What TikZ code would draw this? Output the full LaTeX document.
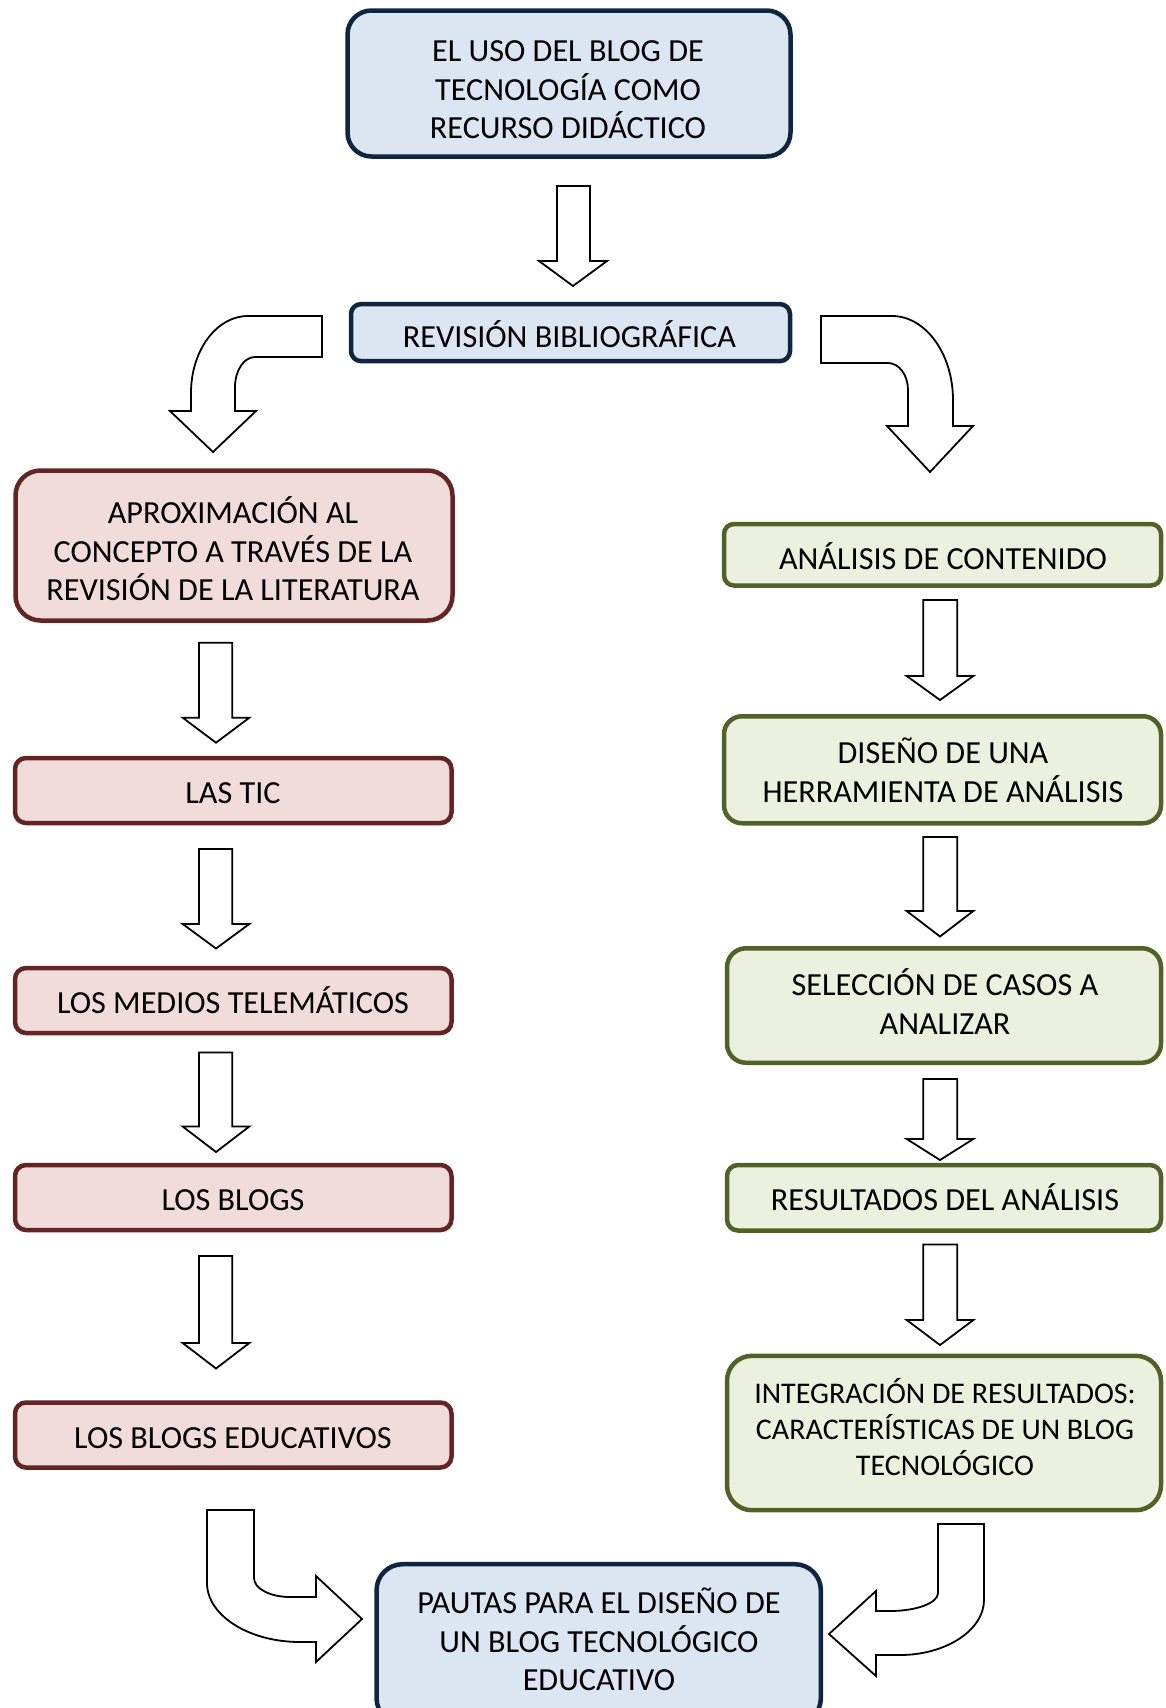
\documentclass[tikz,border=0pt]{standalone}
\usepackage{fontspec}
\setmainfont{Carlito}
\definecolor{bfill}{HTML}{DCE6F2}
\definecolor{bdraw}{HTML}{10253F}
\definecolor{rfill}{HTML}{F2DCDB}
\definecolor{rdraw}{HTML}{632523}
\definecolor{gfill}{HTML}{EBF1DE}
\definecolor{gdraw}{HTML}{4F6228}
\tikzset{
  flowbox/.style={draw, line width=4.5pt, inner sep=0pt, outer sep=0pt},
  bluebox/.style={flowbox, fill=bfill, draw=bdraw},
  redbox/.style={flowbox, fill=rfill, draw=rdraw},
  greenbox/.style={flowbox, fill=gfill, draw=gdraw},
  txt/.style={inner sep=0pt, anchor=base, font=\fontsize{32.2}{38.3}\selectfont},
  smalltxt/.style={inner sep=0pt, anchor=base, font=\fontsize{30}{35}\selectfont},
  blockarrow/.style={draw=black, fill=white, line width=1.8pt, line join=miter},
}
\newcommand\bdarrow[7]{%
  \draw[blockarrow] (#1,#3) -- (#2,#3) -- (#2,#4) -- (#6,#4) -- ({(#5+#6)/2},#7) -- (#5,#4) -- (#1,#4) -- cycle;}
\begin{document}
\begin{tikzpicture}[x=1pt,y=-1pt]
\useasboundingbox (0,0) rectangle (1165,1708);
\clip (0,0) rectangle (1165,1708);

% ---------- boxes ----------
\node[bluebox, rounded corners=24pt, minimum width=443pt, minimum height=146pt] (top) at (569,83.5) {};
\node[bluebox, rounded corners=10pt, minimum width=439pt, minimum height=57pt] (rev) at (570.5,332.6) {};

\node[redbox, rounded corners=25pt, minimum width=437pt, minimum height=150pt] (aprox) at (234,545.5) {};
\node[redbox, rounded corners=11pt, minimum width=436.5pt, minimum height=65pt] (tic) at (233.25,790.5) {};
\node[redbox, rounded corners=11pt, minimum width=436.5pt, minimum height=65pt] (medios) at (233.25,1000.5) {};
\node[redbox, rounded corners=11pt, minimum width=436.5pt, minimum height=65pt] (blogs) at (233.25,1197.5) {};
\node[redbox, rounded corners=11pt, minimum width=436.5pt, minimum height=65pt] (educ) at (233.25,1435) {};

\node[greenbox, rounded corners=10pt, minimum width=437pt, minimum height=61.5pt] (analisis) at (942.5,554.75) {};
\node[greenbox, rounded corners=18pt, minimum width=437pt, minimum height=107pt] (diseno) at (942.5,769.75) {};
\node[greenbox, rounded corners=19pt, minimum width=434pt, minimum height=114.5pt] (seleccion) at (944,1005.5) {};
\node[greenbox, rounded corners=11pt, minimum width=434pt, minimum height=65.5pt] (resultados) at (944,1197.75) {};
\node[greenbox, rounded corners=25pt, minimum width=434pt, minimum height=154.4pt] (integracion) at (944,1433) {};

\node[bluebox, rounded corners=26pt, minimum width=444.3pt, minimum height=160pt] (pautas) at (598.7,1644.2) {};

% ---------- texts ----------
\node[txt] (top1) at (568,61.7) {EL USO DEL BLOG DE};
\node[txt] (top2) at (568,100) {TECNOLOGÍA COMO};
\node[txt] (top3) at (568,138.3) {RECURSO DIDÁCTICO};
\node[txt] (rev1) at (569.5,347.5) {REVISIÓN BIBLIOGRÁFICA};

\node[txt] (aprox1) at (233,523.3) {APROXIMACIÓN AL};
\node[txt] (aprox2) at (233,562.5) {CONCEPTO A TRAVÉS DE LA};
\node[txt] (aprox3) at (233,600.8) {REVISIÓN DE LA LITERATURA};
\node[txt] (tic1) at (233,803.3) {LAS TIC};
\node[txt] (medios1) at (233,1013.5) {LOS MEDIOS TELEMÁTICOS};
\node[txt] (blogs1) at (233,1210.5) {LOS BLOGS};
\node[txt] (educ1) at (233,1448) {LOS BLOGS EDUCATIVOS};

\node[txt] (analisis1) at (943,569) {ANÁLISIS DE CONTENIDO};
\node[txt] (diseno1) at (943,763.4) {DISEÑO DE UNA};
\node[txt] (diseno2) at (943,802.6) {HERRAMIENTA DE ANÁLISIS};
\node[txt] (sel1) at (945,995.4) {SELECCIÓN DE CASOS A};
\node[txt] (sel2) at (945,1034.6) {ANALIZAR};
\node[txt] (res1) at (945,1210.5) {RESULTADOS DEL ANÁLISIS};
\node[smalltxt] (int1) at (945,1403.4) {INTEGRACIÓN DE RESULTADOS:};
\node[smalltxt] (int2) at (945,1439.3) {CARACTERÍSTICAS DE UN BLOG};
\node[smalltxt] (int3) at (945,1475.2) {TECNOLÓGICO};

\node[txt] (pautas1) at (599,1613.5) {PAUTAS PARA EL DISEÑO DE};
\node[txt] (pautas2) at (599,1652) {UN BLOG TECNOLÓGICO};
\node[txt] (pautas3) at (599,1690.5) {EDUCATIVO};

% ---------- straight block arrows ----------
\bdarrow{557}{590}{186}{261}{539}{607}{286}
\bdarrow{199}{232.3}{642.7}{717.7}{182.7}{249.3}{742.7}
\bdarrow{199}{232.3}{849}{924}{182.7}{249.3}{948.5}
\bdarrow{199}{232.3}{1052.5}{1126.5}{182.7}{249.3}{1152}
\bdarrow{199}{232.3}{1256}{1343}{182.7}{249.3}{1368.5}
\bdarrow{923.3}{957.3}{600}{676}{906.7}{973.3}{700}
\bdarrow{923.3}{957.3}{837}{911}{906.7}{973.3}{936.5}
\bdarrow{923.3}{957.3}{1079}{1139}{906.7}{973.3}{1160}
\bdarrow{923.3}{957.3}{1244.5}{1320}{906.7}{973.3}{1345}

% ---------- curved block arrows ----------
\draw[blockarrow] (322,316) -- (248,316) .. controls (216.5,316) and (191,350.5) .. (191,393) -- (191,411) -- (170,411) -- (213,452) -- (256,411) -- (235,411) -- (235,387) .. controls (235,370.5) and (244,357) .. (255,357) -- (322,357) -- cycle;
\draw[blockarrow] (821,316) -- (892,316) .. controls (925.5,316) and (953,353.8) .. (953,400) -- (953,426) -- (973,426) -- (930,472) -- (887,426) -- (908,426) -- (908,390) .. controls (908,375) and (899,363) .. (888,363) -- (821,363) -- cycle;
\draw[blockarrow] (207,1510) -- (254,1510) -- (254,1578) .. controls (254,1588.5) and (270,1597) .. (290,1597) -- (316,1597) -- (316,1576) -- (362,1619) -- (316,1662) -- (316,1642) -- (300,1642) .. controls (249,1642) and (207,1615.5) .. (207,1583) -- cycle;
\draw[blockarrow] (938,1524) -- (984,1524) -- (984,1600) .. controls (984,1630) and (946,1655) .. (900,1655) -- (876,1655) -- (876,1676) -- (829,1634) -- (876,1591) -- (876,1611) -- (890,1611) .. controls (916.4,1611) and (938,1603) .. (938,1593) -- cycle;
\end{tikzpicture}
\end{document}
